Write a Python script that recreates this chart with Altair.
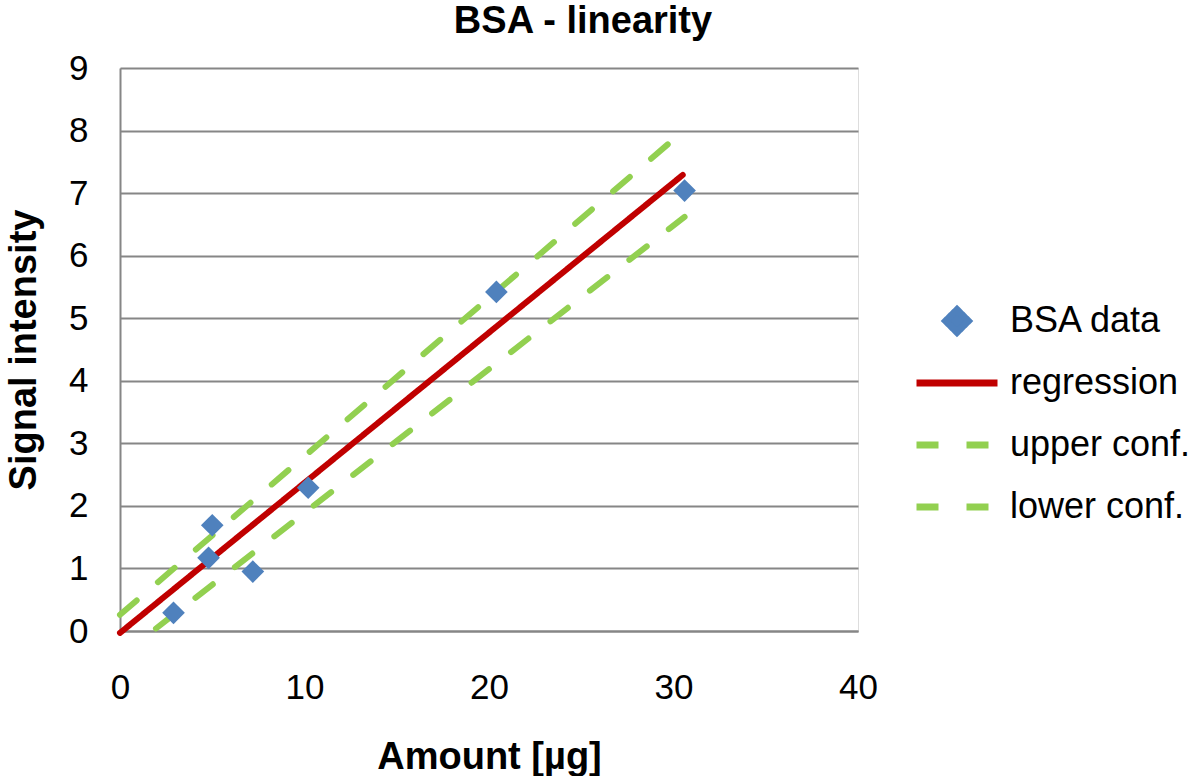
import altair as alt
import pandas as pd

FONT = "Liberation Sans"

# ---- data ----
series_names = ["BSA data", "regression", "upper conf.", "lower conf."]
series_colors = ["#4F81BD", "#C00000", "#92D050", "#92D050"]

amount = [2.9, 4.8, 5.0, 7.2, 10.2, 20.4, 30.6]
signal = [0.29, 1.17, 1.69, 0.95, 2.29, 5.42, 7.04]

reg_x = [0.0, 30.5]
reg_y = [-0.03, 7.29]
upper_x = [0.0, 30.6]
upper_y = [0.26, 8.01]
lower_x = [1.95, 30.6]
lower_y = [0.04, 6.62]

x_ticks = [0, 10, 20, 30, 40]
y_ticks = [0, 1, 2, 3, 4, 5, 6, 7, 8, 9]

# ---- tables ----
points = pd.DataFrame({"x": amount, "y": signal, "series": "BSA data"})
lines = pd.concat(
    [
        pd.DataFrame({"x": reg_x, "y": reg_y, "series": "regression"}),
        pd.DataFrame({"x": upper_x, "y": upper_y, "series": "upper conf."}),
        pd.DataFrame({"x": lower_x, "y": lower_y, "series": "lower conf."}),
    ],
    ignore_index=True,
)

diamond_path = "M-0.28,0L0,-0.28L0.28,0L0,0.28Z"
color_scale = alt.Scale(domain=series_names, range=series_colors)
shape_scale = alt.Scale(domain=series_names, range=[diamond_path, "stroke", "stroke", "stroke"])
dash_scale = alt.Scale(domain=series_names, range=[[1, 0], [1, 0], [22, 28], [22, 28]])

legend = alt.Legend(
    title=None,
    orient="none",
    legendX=793,
    legendY=235,
    symbolSize=6561,
    symbolStrokeWidth=7,
    symbolOpacity=1,
    symbolOffset=0,
    labelFontSize=36,
    labelFont=FONT,
    labelColor="black",
    labelOffset=9,
    labelLimit=400,
    rowPadding=26,
    clipHeight=36,
    padding=0,
)

x_enc = alt.X(
    "x:Q",
    scale=alt.Scale(domain=[0, 40], nice=False),
    axis=alt.Axis(
        values=x_ticks,
        grid=False,
        ticks=False,
        tickSize=0,
        labelFlush=False,
        domainColor="#868686",
        domainWidth=2,
        labelFontSize=35,
        labelFont=FONT,
        labelColor="black",
        labelPadding=39,
        title="Amount [µg]",
        titleFont=FONT,
        titleFontSize=38,
        titleFontWeight="bold",
        titleColor="black",
        titlePadding=33,
    ),
)
y_enc = alt.Y(
    "y:Q",
    scale=alt.Scale(domain=[0, 9], nice=False),
    axis=alt.Axis(
        values=y_ticks,
        grid=True,
        gridColor="#868686",
        gridWidth=2,
        ticks=False,
        tickSize=0,
        labelFlush=False,
        domainColor="#868686",
        domainWidth=2,
        labelFontSize=35,
        labelFont=FONT,
        labelColor="black",
        labelPadding=32,
        title="Signal intensity",
        titleFont=FONT,
        titleFontSize=38,
        titleFontWeight="bold",
        titleColor="black",
        titlePadding=25,
    ),
)

line_layer = alt.Chart(lines).mark_line(strokeWidth=6, strokeCap="round").encode(
    x=x_enc,
    y=y_enc,
    color=alt.Color("series:N", scale=color_scale, legend=legend),
    strokeDash=alt.StrokeDash("series:N", scale=dash_scale, legend=legend),
)

point_layer = alt.Chart(points).mark_point(filled=True, size=6561, opacity=1, strokeWidth=0).encode(
    x=x_enc,
    y=y_enc,
    color=alt.Color("series:N", scale=color_scale, legend=legend),
    shape=alt.Shape("series:N", scale=shape_scale, legend=legend),
)

chart = (
    alt.layer(line_layer, point_layer)
    .properties(
        width=738,
        height=563,
        autosize="none",
        padding={"left": 120, "top": 68, "right": 339, "bottom": 145},
        title=alt.TitleParams(
            "BSA - linearity",
            font=FONT,
            fontSize=38,
            fontWeight="bold",
            color="black",
            anchor="middle",
            dx=94,
            offset=10,
        ),
    )
    .configure_view(stroke=None)
    .configure(background="white")
)

chart.save("out.html", embed_options={"renderer": "svg", "actions": False})
